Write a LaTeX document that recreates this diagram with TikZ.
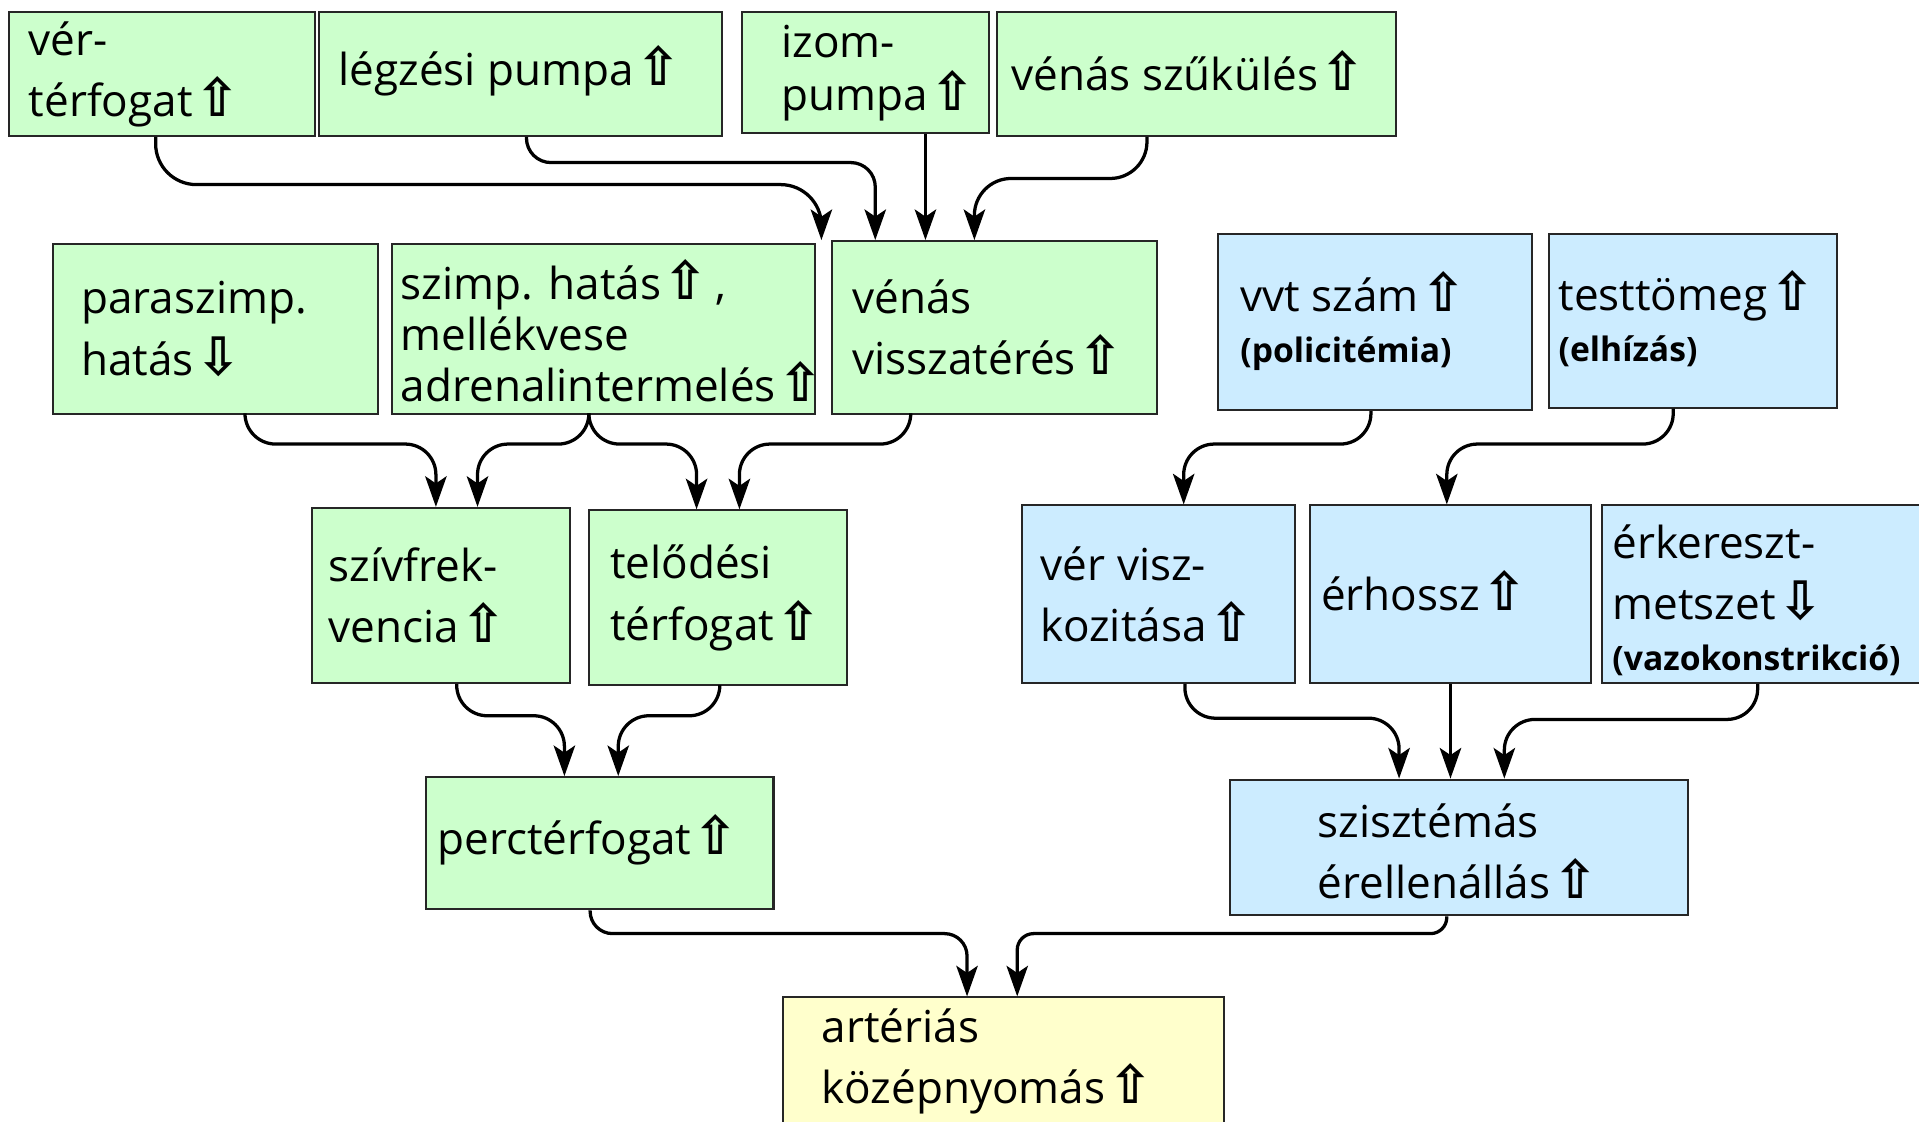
\documentclass[tikz,border=0pt]{standalone}
\usepackage{fontspec}
\setmainfont{Open Sans}
\newfontfamily\dv{DejaVu Sans}
\usetikzlibrary{arrows.meta,calc,fit}
\newcommand\upa{\hspace{0.06em}\raisebox{0pt}[0pt][0pt]{\dv\bfseries\fontsize{26}{26}\selectfont ⇧}}
\newcommand\dna{\hspace{0.06em}\raisebox{0pt}[0pt][0pt]{\dv\bfseries\fontsize{26}{26}\selectfont ⇩}}
\newcommand\subf{\fontsize{16.5}{19}\selectfont\bfseries}
\definecolor{gfill}{HTML}{CCFFCC}
\definecolor{bfill}{HTML}{CCECFF}
\definecolor{yfill}{HTML}{FFFFCC}
\begin{document}
\begin{tikzpicture}[x=0.6pt,y=-0.6pt,
  box/.style={draw=black!85, line width=1pt, inner sep=0pt},
  greenbox/.style={box, fill=gfill},
  bluebox/.style={box, fill=bfill},
  yellowbox/.style={box, fill=yfill},
  lbl/.style={anchor=west, align=left, inner sep=0pt, font=\fontsize{21.6}{30}\selectfont},
  conn/.style={draw, line width=1.6pt, -{Stealth[length=15pt,width=10.5pt,inset=3.5pt]}, rounded corners=15pt},
]
\useasboundingbox (0,0) rectangle (1568,916);
\fill[white] (0,0) rectangle (1568,916);

% boxes
\node[greenbox, fit={(7,10) (257,111)}] (ver) {};
\node[greenbox, fit={(261,10) (590,111)}] (leg) {};
\node[greenbox, fit={(606,10) (808,109)}] (izom) {};
\node[greenbox, fit={(815,10) (1141,111)}] (vsz) {};
\node[greenbox, fit={(43,199) (309,338)}] (par) {};
\node[greenbox, fit={(320,199) (666,338)}] (szi) {};
\node[greenbox, fit={(680,197) (945,338)}] (vv) {};
\node[bluebox, fit={(995,191) (1252,335)}] (vvt) {};
\node[bluebox, fit={(1266,191) (1501,333)}] (test) {};
\node[greenbox, fit={(255,415) (466,558)}] (szf) {};
\node[greenbox, fit={(481,417) (692,560)}] (tel) {};
\node[bluebox, fit={(835,413) (1058,558)}] (vis) {};
\node[bluebox, fit={(1070,413) (1300,558)}] (erh) {};
\node[bluebox, fit={(1309,413) (1575,558)}] (ekm) {};
\node[greenbox, fit={(348,635) (632,743)}] (perc) {};
\node[bluebox, fit={(1005,637) (1379,748)}] (szisz) {};
\node[yellowbox, fit={(640,815) (1000,925)}] (art) {};

% labels
\node[lbl] (ver-l) at ($(ver.west)+(17,0)$) {vér-\\térfogat\upa};
\node[lbl] (leg-l) at ($(leg.west)+(16,0)$) {légzési pumpa\upa};
\node[lbl, font=\fontsize{21.6}{26}\selectfont] (izom-l) at ($(izom.west)+(33,0)$) {izom-\\pumpa\upa};
\node[lbl] (vsz-l) at ($(vsz.west)+(12,0)$) {vénás szűkülés\upa};
\node[lbl] (par-l) at ($(par.west)+(24,0)$) {paraszimp.\\hatás\dna};
\node[lbl, font=\fontsize{21.6}{25}\selectfont] (szi-l) at ($(szi.west)+(8,4)$) {szimp. hatás\upa\,,\\mellékvese\\adrenalintermelés\upa};
\node[lbl] (vv-l) at ($(vv.west)+(17,0)$) {vénás\\visszatérés\upa};
\node[lbl] (vvt-l) at ($(vvt.west)+(19,2)$) {vvt szám\upa\\[-5pt]{\subf (policitémia)}};
\node[lbl] (test-l) at ($(test.west)+(8,2)$) {testtömeg\upa\\[-5pt]{\subf (elhízás)}};
\node[lbl] (szf-l) at ($(szf.west)+(14,0)$) {szívfrek-\\vencia\upa};
\node[lbl] (tel-l) at ($(tel.west)+(18,0)$) {telődési\\térfogat\upa};
\node[lbl] (vis-l) at ($(vis.west)+(16,0)$) {vér visz-\\kozitása\upa};
\node[lbl] (erh-l) at ($(erh.west)+(10,0)$) {érhossz\upa};
\node[lbl] (ekm-l) at ($(ekm.west)+(9,5)$) {érkereszt-\\metszet\dna\\[-5pt]{\subf (vazokonstrikció)}};
\node[lbl] (perc-l) at ($(perc.west)+(10,0)$) {perctérfogat\upa};
\node[lbl] (szisz-l) at ($(szisz.west)+(72,3)$) {szisztémás\\érellenállás\upa};
\node[lbl] (art-l) at ($(art.west)+(32,-3)$) {artériás\\középnyomás\upa};

% connectors
\draw[conn, rounded corners=20pt] ($(ver.south west)+(121,0)$) -- ++(0,39) -| ($(vv.north west)+(-8,0)$);
\draw[conn, rounded corners=12pt] ($(leg.south west)+(170,0)$) -- ++(0,21) -| ($(vv.north west)+(36,0)$);
\draw[conn] ($(izom.south west)+(151,0)$) -- ($(vv.north west)+(77,0)$);
\draw[conn, rounded corners=18pt] ($(vsz.south west)+(123,0)$) -- ++(0,34) -| ($(vv.north west)+(117,0)$);
\draw[conn] ($(par.south west)+(158,0)$) -- ++(0,24) -| ($(szf.north west)+(102,0)$);
\draw[conn] ($(szi.south west)+(162,0)$) -- ++(0,24) -| ($(szf.north west)+(136,0)$);
\draw[conn] ($(szi.south west)+(162,0)$) -- ++(0,24) -| ($(tel.north west)+(89,0)$);
\draw[conn] ($(vv.south west)+(65,0)$) -- ++(0,24) -| ($(tel.north west)+(124,0)$);
\draw[conn] ($(vvt.south west)+(126,0)$) -- ++(0,27) -| ($(vis.north west)+(133,0)$);
\draw[conn] ($(test.south west)+(102,0)$) -- ++(0,29) -| ($(erh.north west)+(113,0)$);
\draw[conn] ($(szf.south west)+(119,0)$) -- ++(0,26) -| ($(perc.north west)+(114,0)$);
\draw[conn] ($(tel.south west)+(108,0)$) -- ++(0,24) -| ($(perc.north west)+(158,0)$);
\draw[conn] ($(vis.south west)+(134,0)$) -- ++(0,28) -| ($(szisz.north west)+(139,0)$);
\draw[conn] ($(erh.south west)+(116,0)$) -- ($(szisz.north west)+(181,0)$);
\draw[conn] ($(ekm.south west)+(128,0)$) -- ++(0,29) -| ($(szisz.north west)+(225,0)$);
\draw[conn, rounded corners=11pt] ($(perc.south west)+(135,0)$) -- ++(0,19) -| ($(art.north west)+(151,0)$);
\draw[conn, rounded corners=8pt] ($(szisz.south west)+(178,0)$) -- ++(0,14) -| ($(art.north west)+(192,0)$);
\end{tikzpicture}
\end{document}
